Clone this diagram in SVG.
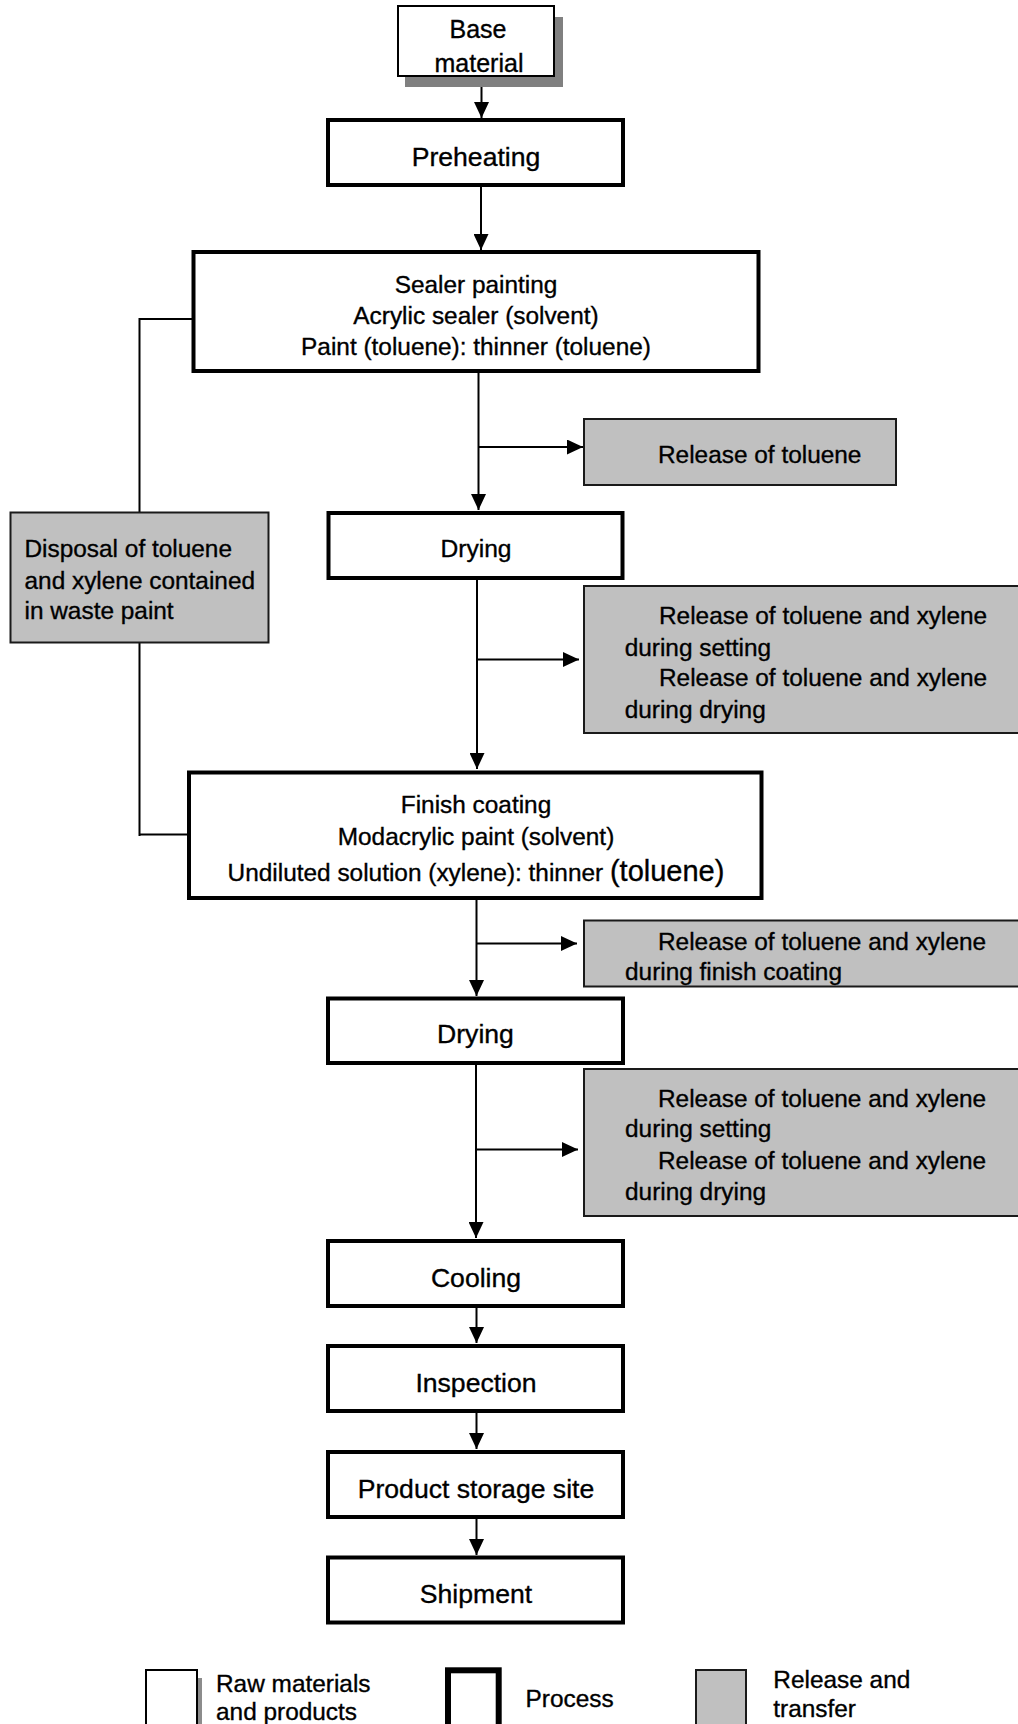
<svg xmlns="http://www.w3.org/2000/svg" width="1018" height="1724" viewBox="0 0 1018 1724">
<style>
  text { font-family: "Liberation Sans", Arial, sans-serif; fill: #000; stroke: #000; stroke-width: 0.35px; }
  .c { text-anchor: middle; }
  .proc { fill: #fff; stroke: #000; stroke-width: 4; }
  .raw { fill: #fff; stroke: #000; stroke-width: 2; }
  .rel { fill: #c0c0c0; stroke: #1a1a1a; stroke-width: 2; }
  .conn { fill: none; stroke: #000; stroke-width: 2; }
  .arr { marker-end: url(#ah); }
  .t24 { font-size: 24.4px; }
  .t26 { font-size: 26.6px; }
</style>
<defs>
  <marker id="ah" markerUnits="userSpaceOnUse" markerWidth="16" markerHeight="15" refX="16" refY="7.5" orient="auto">
    <path d="M0,0 L16,7.5 L0,15 Z" fill="#000"/>
  </marker>
</defs>
<rect x="0" y="0" width="1018" height="1724" fill="#fff"/>

<g id="connectors">
  <path class="conn arr" d="M481.5,87 V118"/>
  <path class="conn arr" d="M481,186 V250"/>
  <path class="conn arr" d="M478.5,373 V510"/>
  <path class="conn arr" d="M478.5,447 H583"/>
  <path class="conn arr" d="M477,580 V769"/>
  <path class="conn arr" d="M477,659.5 H579"/>
  <path class="conn arr" d="M476.5,900 V996"/>
  <path class="conn arr" d="M476.5,943.5 H577"/>
  <path class="conn arr" d="M476,1065 V1238"/>
  <path class="conn arr" d="M476,1149.5 H578"/>
  <path class="conn arr" d="M476.5,1308 V1343"/>
  <path class="conn arr" d="M476.5,1413 V1449"/>
  <path class="conn arr" d="M476.5,1519 V1555"/>
  <path class="conn" d="M192,319 H139.5 V512"/>
  <path class="conn" d="M139.5,643 V836 M139.5,834.5 H188"/>
</g>

<g id="base-material">
  <rect x="405" y="17" width="158" height="70" fill="#808080"/>
  <rect class="raw" x="398" y="6" width="156" height="70"/>
  <text class="c" x="478" y="37.5" font-size="25">Base</text>
  <text class="c" x="479" y="72" font-size="25">material</text>
</g>

<g id="preheating">
  <rect class="proc" x="328" y="120" width="295" height="65"/>
  <text class="c t26" x="476" y="166">Preheating</text>
</g>

<g id="sealer-painting">
  <rect class="proc" x="193.5" y="252" width="565" height="119"/>
  <text class="c t24" x="476" y="292.5">Sealer painting</text>
  <text class="c t24" x="476" y="324">Acrylic sealer (solvent)</text>
  <text class="c t24" x="476" y="354.5">Paint (toluene): thinner (toluene)</text>
</g>

<g id="release-toluene">
  <rect class="rel" x="584" y="419" width="312" height="66"/>
  <text class="t24" x="658" y="463">Release of toluene</text>
</g>

<g id="disposal">
  <rect class="rel" x="10.5" y="512.5" width="258" height="130"/>
  <text class="t24" x="24.5" y="557.3">Disposal of toluene</text>
  <text class="t24" x="24.5" y="589">and xylene contained</text>
  <text class="t24" x="24.5" y="619.3">in waste paint</text>
</g>

<g id="drying-1">
  <rect class="proc" x="328.5" y="513" width="294" height="65"/>
  <text class="c" x="476" y="557.3" font-size="24.6">Drying</text>
</g>

<g id="release-setting-drying-1">
  <rect class="rel" x="584" y="586" width="440" height="147"/>
  <text class="t24" x="659" y="624.3">Release of toluene and xylene</text>
  <text class="t24" x="624.7" y="655.7">during setting</text>
  <text class="t24" x="659" y="686">Release of toluene and xylene</text>
  <text class="t24" x="624.7" y="718.3">during drying</text>
</g>

<g id="finish-coating">
  <rect class="proc" x="189" y="772.5" width="572.5" height="125.5"/>
  <text class="c t24" x="476" y="812.7">Finish coating</text>
  <text class="c t24" x="476" y="845">Modacrylic paint (solvent)</text>
  <text class="c t24" x="476" y="880.7">Undiluted solution (xylene): thinner <tspan font-size="29">(toluene)</tspan></text>
</g>

<g id="release-finish-coating">
  <rect class="rel" x="584" y="920.5" width="440" height="66"/>
  <text class="t24" x="658" y="950">Release of toluene and xylene</text>
  <text class="t24" x="625" y="980">during finish coating</text>
</g>

<g id="drying-2">
  <rect class="proc" x="328" y="998.5" width="295" height="64.5"/>
  <text class="c t26" x="475.5" y="1043.3">Drying</text>
</g>

<g id="release-setting-drying-2">
  <rect class="rel" x="584" y="1069" width="440" height="147"/>
  <text class="t24" x="658" y="1106.7">Release of toluene and xylene</text>
  <text class="t24" x="625" y="1137.3">during setting</text>
  <text class="t24" x="658" y="1169.3">Release of toluene and xylene</text>
  <text class="t24" x="625" y="1200">during drying</text>
</g>

<g id="cooling">
  <rect class="proc" x="328" y="1241" width="295" height="65"/>
  <text class="c t26" x="476" y="1286.7">Cooling</text>
</g>

<g id="inspection">
  <rect class="proc" x="328" y="1346" width="295" height="65"/>
  <text class="c t26" x="476" y="1391.7">Inspection</text>
</g>

<g id="product-storage">
  <rect class="proc" x="328" y="1452" width="295" height="65"/>
  <text class="c t26" x="476" y="1497.7">Product storage site</text>
</g>

<g id="shipment">
  <rect class="proc" x="328" y="1557.5" width="295" height="65"/>
  <text class="c t26" x="476" y="1602.7">Shipment</text>
</g>

<g id="legend">
  <rect x="153" y="1678" width="49" height="60" fill="#8c8c8c"/>
  <rect class="raw" x="146" y="1670" width="51" height="70"/>
  <text class="t24" x="216" y="1691.7">Raw materials</text>
  <text class="t24" x="216" y="1720">and products</text>
  <rect x="448" y="1670.3" width="50.7" height="70" fill="#fff" stroke="#000" stroke-width="6"/>
  <text class="t24" x="525.6" y="1706.7">Process</text>
  <rect class="rel" x="696" y="1670" width="50" height="70" stroke-width="1.5"/>
  <text class="t24" x="773.3" y="1688.3">Release and</text>
  <text class="t24" x="773.3" y="1716.5">transfer</text>
</g>
</svg>
